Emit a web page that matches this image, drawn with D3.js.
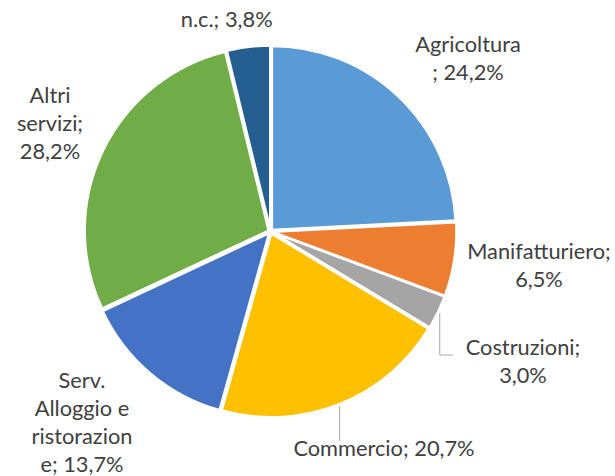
<!DOCTYPE html>
<html>
<head>
<meta charset="utf-8">
<script src="https://cdn.jsdelivr.net/npm/d3@7"></script>
<style>
  html, body { margin: 0; padding: 0; background: #fff; }
  .lbl { font-family: Lato, 'Open Sans', sans-serif; fill: #404040; }
</style>
</head>
<body>
<div id="chart"></div>
<script>
;(function() {
  // sectors, in Excel order (clockwise from 12 o'clock)
  var categories = ['Agricoltura', 'Manifatturiero', 'Costruzioni', 'Commercio',
    'Serv. Alloggio e ristorazione', 'Altri servizi', 'n.c.']
  var values = [24.2, 6.5, 3.0, 20.7, 13.7, 28.2, 3.8]
  var colors = ['#5B9BD5', '#ED7D31', '#A5A5A5', '#FFC000', '#4472C4', '#70AD47', '#255E91']
  // where Excel wrapped each label (char index into the full label)
  var labelBreaks = [[11], [15], [12], [], [5, 16, 28], [5, 14], []]

  var width = 615
  var height = 476
  var cx = 270.5
  var cy = 231.5
  var radius = 184
  var explode = 2
  var lineHeight = 28.3
  var fontSize = 21.8

  // label placement: [center x, first baseline]
  var labelAt = [[468, 52], [539, 259], [523, 355], [384, 456], [82, 387.5], [50, 102.5], [226.7, 27]]
  // leader lines end at [x, y]
  var leaderTo = { 2: [453, 355], 3: [339, 441] }

  var svg = d3.select('#chart')
    .append('svg')
    .attr('width', width)
    .attr('height', height)

  var data = categories.map(function(c, i) {
    return { name: c, value: values[i], color: colors[i], i: i }
  })

  var pie = d3.pie().sort(null).value(d => d.value)
  var arc = d3.arc().innerRadius(0).outerRadius(radius)
  var arcs = pie(data)

  var g = svg.append('g').attr('transform', 'translate(' + cx + ',' + cy + ')')

  function mid(d) { return (d.startAngle + d.endAngle) / 2 }

  g.selectAll('path')
    .data(arcs)
    .enter()
    .append('path')
    .attr('d', arc)
    .attr('fill', d => d.data.color)
    .attr('stroke', '#fff')
    .attr('stroke-width', 2.5)
    .attr('stroke-linejoin', 'round')
    .attr('transform', function(d) {
      var a = mid(d)
      return 'translate(' + explode * Math.sin(a) + ',' + -explode * Math.cos(a) + ')'
    })

  // leader lines
  arcs.forEach(function(d, i) {
    if (!leaderTo[i]) return
    var a = mid(d)
    var r = radius + explode + 2
    var x0 = cx + r * Math.sin(a)
    var y0 = cy - r * Math.cos(a)
    var end = leaderTo[i]
    var pts = [[x0, y0], [x0, end[1]]]
    if (Math.abs(end[0] - x0) > 2) pts.push([end[0], end[1]])
    svg.append('path')
      .attr('d', d3.line()(pts))
      .attr('fill', 'none')
      .attr('stroke', '#A6A6A6')
      .attr('stroke-width', 1)
  })

  var fmt = d3.format('.1f')

  function labelLines(d, i) {
    var full = d.name + '; ' + fmt(d.value).replace('.', ',') + '%'
    var cuts = [0].concat(labelBreaks[i]).concat([full.length])
    var lines = []
    for (var k = 0; k < cuts.length - 1; k++) {
      lines.push(full.slice(cuts[k], cuts[k + 1]).trim())
    }
    return lines
  }

  data.forEach(function(d, i) {
    var t = svg.append('text')
      .attr('class', 'lbl')
      .attr('font-size', fontSize)
      .attr('text-anchor', 'middle')
      .attr('x', labelAt[i][0])
      .attr('y', labelAt[i][1])
    labelLines(d, i).forEach(function(line, k) {
      t.append('tspan')
        .attr('x', labelAt[i][0])
        .attr('y', labelAt[i][1] + k * lineHeight)
        .text(line)
    })
  })
})()
</script>
</body>
</html>
